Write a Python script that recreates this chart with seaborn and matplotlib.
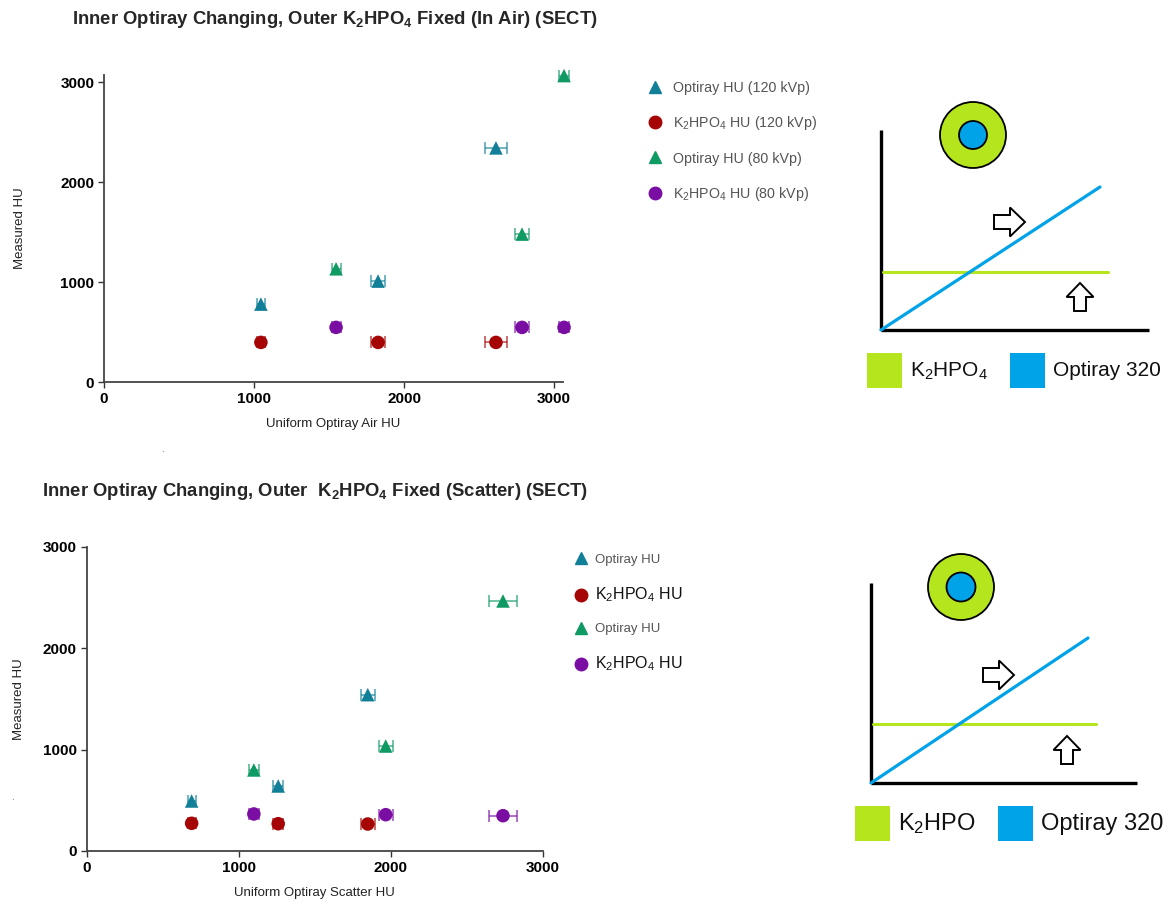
import numpy as np
import pandas as pd
import matplotlib
matplotlib.use('Agg')
import matplotlib.pyplot as plt
from matplotlib.lines import Line2D
from matplotlib.patches import Circle, Rectangle, FancyArrow
import seaborn as sns

# ---- data ----
# top panel: in air
air_x_120 = [1046, 1827, 2613]
air_xerr_120 = [25, 45, 76]
air_optiray_120 = [779, 1009, 2341]
air_k2hpo4_120 = [396, 396, 396]

air_x_80 = [1547, 2787, 3067]
air_xerr_80 = [30, 49, 35]
air_optiray_80 = [1132, 1479, 3064]
air_k2hpo4_80 = [546, 546, 546]

# bottom panel: scatter
sc_x_120 = [690, 1259, 1848]
sc_xerr_120 = [27, 33, 47]
sc_optiray_120 = [493, 641, 1541]
sc_k2hpo4_120 = [273, 269, 266]

sc_x_80 = [1099, 1966, 2737]
sc_xerr_80 = [33, 47, 94]
sc_optiray_80 = [799, 1035, 2465]
sc_k2hpo4_80 = [365, 358, 348]

ticks = [0, 1000, 2000, 3000]

K2 = r'K$_2$HPO$_4$'
K2B = r'K$_\mathbf{2}$HPO$_\mathbf{4}$'

series_names = ['opt120', 'k120', 'opt80', 'k80']
palette = {'opt120': '#127f98', 'k120': '#a50505', 'opt80': '#0f9a63', 'k80': '#7a0ea3'}
markers = {'opt120': '^', 'k120': 'o', 'opt80': '^', 'k80': 'o'}

sns.set_theme(style='white')
plt.rcParams['font.family'] = ['Liberation Sans', 'DejaVu Sans']
plt.rcParams['mathtext.fontset'] = 'custom'
plt.rcParams['mathtext.rm'] = 'Liberation Sans'
plt.rcParams['mathtext.it'] = 'Liberation Sans'
plt.rcParams['mathtext.bf'] = 'Liberation Sans:bold'

W, H = 1172.0, 910.0


def make_frame(x120, o120, k120, e120, x80, o80, k80, e80):
    parts = []
    for name, xs, ys, es in [('opt120', x120, o120, e120), ('k120', x120, k120, e120),
                             ('opt80', x80, o80, e80), ('k80', x80, k80, e80)]:
        parts.append(pd.DataFrame({'x': xs, 'y': ys, 'xerr': es, 'series': name}))
    return pd.concat(parts, ignore_index=True)


def scatter_panel(ax, df, xmax, ymax, xlabel, ylabel_px):
    for name in series_names:
        sub = df[df['series'] == name]
        eb = ax.errorbar(sub['x'], sub['y'], xerr=sub['xerr'], fmt='none',
                         ecolor=palette[name], elinewidth=1.1, capsize=4, capthick=1.1,
                         alpha=0.75, zorder=2)
        for art in eb.lines[1] + eb.lines[2]:
            art.set_clip_on(False)
    sns.scatterplot(data=df, x='x', y='y', hue='series', style='series',
                    palette=palette, markers=markers, s=95, edgecolor='none',
                    legend=False, ax=ax, zorder=3, clip_on=False)
    ax.set_xlim(0, xmax)
    ax.set_ylim(0, ymax)
    ax.set_xticks(ticks)
    ax.set_yticks(ticks)
    ax.set_xticklabels([str(t) for t in ticks], fontweight='bold', fontsize=11)
    ax.set_yticklabels([str(t) for t in ticks], fontweight='bold', fontsize=11)
    ax.tick_params(direction='out', length=4, width=1, colors='#333333',
                   labelcolor='black', bottom=True, left=True, pad=3)
    for side in ['top', 'right']:
        ax.spines[side].set_visible(False)
    for side in ['left', 'bottom']:
        ax.spines[side].set_color('#444444')
        ax.spines[side].set_linewidth(1.3)
    ax.set_xlabel(xlabel, fontsize=9.5, labelpad=9, color='#222222')
    ax.set_ylabel('Measured HU', fontsize=9.5, color='#222222')
    # place the y label at a fixed pixel column
    x0 = ax.get_position().x0 * W
    ax.yaxis.set_label_coords((ylabel_px - x0) / (ax.get_position().width * W), 0.5)


def draw_schematic(ov, ox, oy, w, h, circ, r_out, r_in, green_y, blue_end, green_end,
                   rarrow, uarrow, leg_y, leg_gx, leg_bx, sq, fs, k_label):
    ov.plot([ox, ox], [oy - h, oy], color='black', lw=2.4, solid_capstyle='butt')
    ov.plot([ox, ox + w], [oy, oy], color='black', lw=2.4, solid_capstyle='butt')
    ov.plot([ox + 2, green_end], [green_y, green_y], color='#b5e51d', lw=2.2)
    ov.plot([ox, blue_end[0]], [oy, blue_end[1]], color='#00a2e8', lw=2.3)
    ov.add_patch(Circle(circ, r_out, fc='#b5e51d', ec='black', lw=1.3))
    ov.add_patch(Circle(circ, r_in, fc='#00a2e8', ec='black', lw=1.3))
    ov.add_patch(FancyArrow(rarrow[0], rarrow[1], 31, 0, width=14, head_width=29,
                            head_length=15, length_includes_head=True,
                            fc='white', ec='black', lw=1.4))
    ov.add_patch(FancyArrow(uarrow[0], uarrow[1], 0, -28, width=12, head_width=27,
                            head_length=14, length_includes_head=True,
                            fc='white', ec='black', lw=1.4))
    ov.add_patch(Rectangle((leg_gx, leg_y - sq / 2), sq, sq, fc='#b5e51d', ec='none'))
    ov.add_patch(Rectangle((leg_bx, leg_y - sq / 2), sq, sq, fc='#00a2e8', ec='none'))
    ov.text(leg_gx + sq + 8, leg_y + 1, k_label, fontsize=fs, va='center', ha='left',
            color='#111111')
    ov.text(leg_bx + sq + 8, leg_y + 1, 'Optiray 320', fontsize=fs, va='center',
            ha='left', color='#111111')


fig = plt.figure(figsize=(11.72, 9.10), dpi=100)

# overlay axes in pixel units for the schematics
ov = fig.add_axes([0, 0, 1, 1], zorder=0)
ov.set_xlim(0, W)
ov.set_ylim(H, 0)
ov.set_aspect('equal')
ov.axis('off')

# ---- top panel ----
ax1 = fig.add_axes([104 / W, 1 - 382 / H, 459 / W, 307 / H], zorder=1)
df_air = make_frame(air_x_120, air_optiray_120, air_k2hpo4_120, air_xerr_120,
                    air_x_80, air_optiray_80, air_k2hpo4_80, air_xerr_80)
scatter_panel(ax1, df_air, 3060, 3070, 'Uniform Optiray Air HU', 26)
fig.text(72 / W, 1 - 19 / H,
         'Inner Optiray Changing, Outer ' + K2B + ' Fixed (In Air) (SECT)',
         fontsize=13.3, fontweight='bold', va='center', ha='left')

top_labels = ['Optiray HU (120 kVp)', K2 + ' HU (120 kVp)',
              'Optiray HU (80 kVp)', K2 + ' HU (80 kVp)']
handles = [Line2D([], [], ls='none', marker=markers[n], color=palette[n], markersize=9)
           for n in series_names]
leg1 = ax1.legend(handles, top_labels, loc='upper left', frameon=False,
                  bbox_to_anchor=(634 / W, 1 - 68 / H), bbox_transform=fig.transFigure,
                  fontsize=10.3, labelspacing=1.35, handletextpad=0.6, handlelength=1.2)
for t in leg1.get_texts():
    t.set_color('#555555')

# ---- bottom panel ----
ax2 = fig.add_axes([86.7 / W, 1 - 851 / H, 456.3 / W, 304.3 / H], zorder=1)
df_sc = make_frame(sc_x_120, sc_optiray_120, sc_k2hpo4_120, sc_xerr_120,
                   sc_x_80, sc_optiray_80, sc_k2hpo4_80, sc_xerr_80)
scatter_panel(ax2, df_sc, 3000, 3000, 'Uniform Optiray Scatter HU', 25)
fig.text(42 / W, 1 - 492 / H,
         'Inner Optiray Changing, Outer  ' + K2B + ' Fixed (Scatter) (SECT)',
         fontsize=13.3, fontweight='bold', va='center', ha='left')

bot_labels = ['Optiray HU', K2 + ' HU', 'Optiray HU', K2 + ' HU']
leg2 = ax2.legend(handles, bot_labels, loc='upper left', frameon=False,
                  bbox_to_anchor=(561 / W, 1 - 542 / H), bbox_transform=fig.transFigure,
                  fontsize=9.5, labelspacing=1.45, handletextpad=0.45, handlelength=1.2)
for i, t in enumerate(leg2.get_texts()):
    if i % 2 == 0:
        t.set_color('#555555')
        t.set_fontsize(9.5)
    else:
        t.set_color('#111111')
        t.set_fontsize(11.5)

# ---- schematics ----
draw_schematic(ov, 881, 330, 268, 200, (973, 135), 33, 14, 272, (1100, 187), 1108,
               (994, 222), (1080, 311), 370, 867, 1010, 35, 15, K2)
draw_schematic(ov, 871, 783, 266, 200, (961, 587), 33, 14.5, 724, (1088, 638), 1096,
               (983, 675), (1067, 764), 823, 855, 998, 35, 17, r'K$_2$HPO')

# stray dots in the original
fig.text(161 / W, 1 - 452 / H, '.', fontsize=7, color='#555555')
fig.text(11 / W, 1 - 800 / H, '.', fontsize=7, color='#555555')

fig.savefig('out.png', dpi=100)
